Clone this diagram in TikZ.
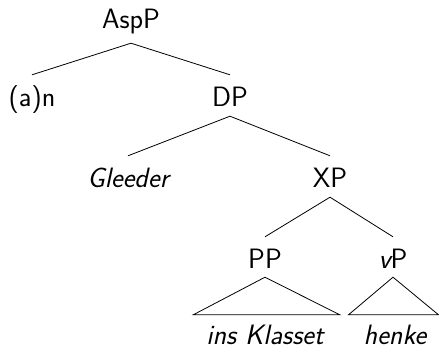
\documentclass[tikz,border=0pt]{standalone}
\usepackage{fontspec}
\begin{document}
\begin{tikzpicture}[x=1pt,y=-1pt,
  lbl/.style={anchor=base,inner sep=0pt,text height=20pt,text depth=0pt,
    font=\sffamily\fontsize{28}{32}\selectfont},
  leaf/.style={lbl,inner xsep=13pt,font=\sffamily\itshape\fontsize{28}{32}\selectfont},
  branch/.style={line width=0.8pt,line join=miter}]
\useasboundingbox (0,0) rectangle (439,348);

% node labels, placed on their baselines
\node[lbl] (asp) at (131,28) {AspP};
\node[lbl] (an) at (32,106) {(a)n};
\node[lbl] (dp) at (230,106) {DP};
\node[lbl,font=\sffamily\itshape\fontsize{28}{32}\selectfont] (gl) at (128,187) {Gleeder};
\node[lbl] (xp) at (330,187) {XP};
\node[lbl] (pp) at (265,268) {PP};
\node[lbl] (vp) at (393,268) {{\itshape v}P};
\node[leaf] (ik) at (265,344) {ins Klasset};
\node[leaf] (hk) at (395,344) {henke};

% branches
\draw[branch] ([yshift=-15pt]asp.south) -- ([yshift=11pt]an.north);
\draw[branch] ([yshift=-15pt]asp.south) -- ([yshift=11pt]dp.north);
\draw[branch] ([yshift=-10pt]dp.south) -- ([yshift=11pt]gl.north);
\draw[branch] ([yshift=-10pt]dp.south) -- ([yshift=11pt]xp.north);
\draw[branch] ([yshift=-10pt]xp.south) -- ([yshift=11pt]pp.north);
\draw[branch] ([yshift=-10pt]xp.south) -- ([yshift=11pt]vp.north);

% roofs over the unanalysed constituents
\draw[branch] ([yshift=-9pt]pp.south) -- ([yshift=9pt]ik.north west)
  -- ([yshift=9pt,xshift=3pt]ik.north east) -- cycle;
\draw[branch] ([yshift=-9pt]vp.south) -- ([yshift=9pt,xshift=-2pt]hk.north west)
  -- ([yshift=9pt,xshift=-1pt]hk.north east) -- cycle;
\end{tikzpicture}
\end{document}
